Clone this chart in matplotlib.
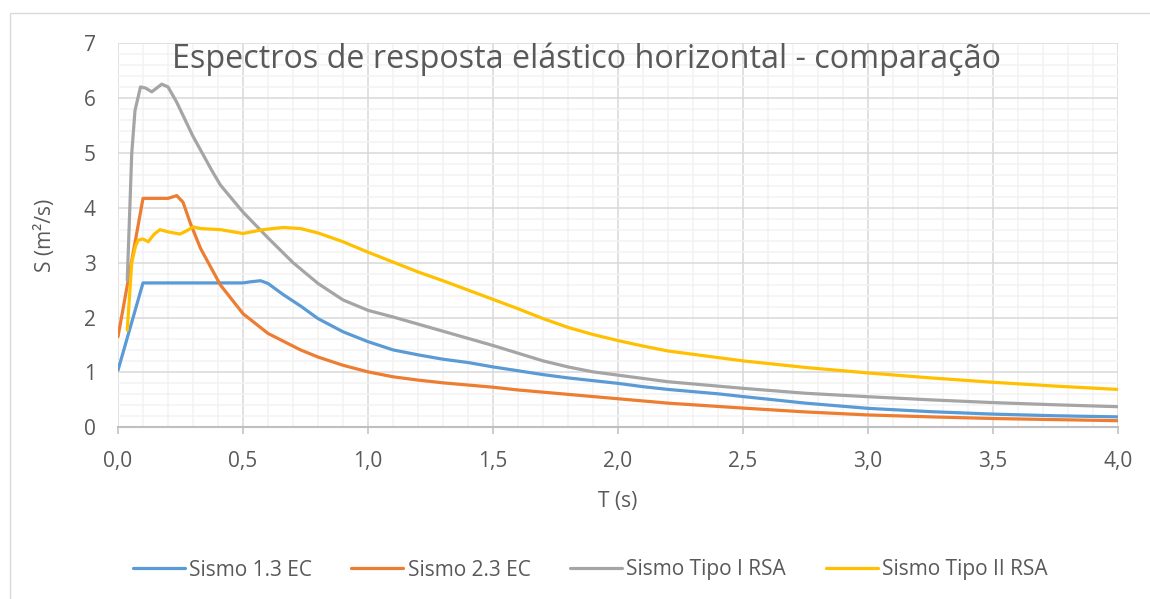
import matplotlib
matplotlib.use("Agg")
import matplotlib.pyplot as plt
from matplotlib import patches
import numpy as np

plt.rcParams['font.family'] = ['Open Sans', 'DejaVu Sans']

# Sismo 1.3 EC
t_ec1 = [0, 0.1, 0.5, 0.53, 0.57, 0.6, 0.66, 0.73, 0.8, 0.9, 1.0, 1.1, 1.2, 1.3, 1.4, 1.5, 1.6, 1.7, 1.8, 1.9,
         2.0, 2.1, 2.2, 2.3, 2.4, 2.5, 2.75, 3.0, 3.25, 3.5, 3.75, 4.0]
s_ec1 = [1.04, 2.63, 2.63, 2.65, 2.67, 2.62, 2.42, 2.21, 1.98, 1.74, 1.56, 1.41, 1.32, 1.24, 1.18, 1.10, 1.03, 0.96,
         0.90, 0.85, 0.80, 0.74, 0.69, 0.65, 0.61, 0.56, 0.44, 0.345, 0.285, 0.24, 0.21, 0.19]
# Sismo 2.3 EC
t_ec2 = [0, 0.1, 0.2, 0.235, 0.26, 0.29, 0.33, 0.41, 0.5, 0.6, 0.73, 0.8, 0.9, 1.0, 1.1, 1.2, 1.3, 1.4, 1.5, 1.6,
         1.7, 1.8, 1.9, 2.0, 2.1, 2.2, 2.3, 2.4, 2.5, 2.75, 3.0, 3.25, 3.5, 3.75, 4.0]
s_ec2 = [1.65, 4.17, 4.17, 4.22, 4.1, 3.71, 3.26, 2.59, 2.07, 1.71, 1.41, 1.28, 1.13, 1.01, 0.92, 0.86, 0.81, 0.77,
         0.73, 0.68, 0.64, 0.60, 0.56, 0.52, 0.48, 0.44, 0.41, 0.38, 0.35, 0.28, 0.225, 0.19, 0.16, 0.14, 0.12]
# Sismo Tipo I RSA
t_rsa1 = [0.037, 0.048, 0.055, 0.068, 0.09, 0.11, 0.135, 0.175, 0.2, 0.235, 0.3, 0.375, 0.41, 0.5, 0.6, 0.7,
          0.8, 0.9, 1.0, 1.1, 1.2, 1.3, 1.4, 1.5, 1.6, 1.7, 1.8, 1.9, 2.0, 2.1, 2.2, 2.3, 2.4, 2.5, 2.75, 3.0,
          3.25, 3.5, 3.75, 4.0]
s_rsa1 = [2.68, 4.08, 4.99, 5.77, 6.2, 6.18, 6.11, 6.25, 6.2, 5.92, 5.3, 4.68, 4.41, 3.92, 3.45, 3.0,
          2.62, 2.32, 2.13, 2.01, 1.88, 1.75, 1.62, 1.49, 1.35, 1.21, 1.10, 1.01, 0.95, 0.89, 0.83, 0.79, 0.75,
          0.71, 0.62, 0.557, 0.50, 0.45, 0.41, 0.375]
# Sismo Tipo II RSA
t_rsa2 = [0.037, 0.055, 0.07, 0.081, 0.1, 0.121, 0.145, 0.168, 0.2, 0.248, 0.275, 0.301, 0.33, 0.41, 0.5, 0.58,
          0.66, 0.73, 0.8, 0.9, 1.0, 1.1, 1.2, 1.3, 1.4, 1.5, 1.6, 1.7, 1.8, 1.9, 2.0, 2.1, 2.2, 2.3, 2.4, 2.5,
          2.75, 3.0, 3.25, 3.5, 3.75, 4.0]
s_rsa2 = [1.77, 3.0, 3.3, 3.41, 3.43, 3.38, 3.52, 3.60, 3.56, 3.52, 3.58, 3.65, 3.62, 3.6, 3.53, 3.6,
          3.64, 3.62, 3.54, 3.38, 3.19, 3.01, 2.83, 2.67, 2.50, 2.33, 2.16, 1.98, 1.82, 1.69, 1.58, 1.48, 1.39,
          1.33, 1.27, 1.21, 1.09, 0.99, 0.90, 0.82, 0.75, 0.69]

names = ['Sismo 1.3 EC', 'Sismo 2.3 EC', 'Sismo Tipo I RSA', 'Sismo Tipo II RSA']
colors = ['#5B9BD5', '#ED7D31', '#A5A5A5', '#FFC000']
xticks = [0, 0.5, 1.0, 1.5, 2.0, 2.5, 3.0, 3.5, 4.0]
xlabels = ['0,0', '0,5', '1,0', '1,5', '2,0', '2,5', '3,0', '3,5', '4,0']
yticks = [0, 1, 2, 3, 4, 5, 6, 7]

txt = '#595959'
W, H = 1150, 599
fig = plt.figure(figsize=(W / 100, H / 100), dpi=100)
# chart frame
fig.patches.append(patches.Rectangle((10 / W, -0.05), 1.1, 1 - 13 / H + 0.05, transform=fig.transFigure,
                                     fill=False, edgecolor='#D9D9D9', linewidth=1.0))
ax = fig.add_axes([118 / W, 1 - 427.3 / H, 1000 / W, (427.3 - 43) / H])

for t, s, n, c in zip([t_ec1, t_ec2, t_rsa1, t_rsa2], [s_ec1, s_ec2, s_rsa1, s_rsa2], names, colors):
    ax.plot(t, s, color=c, linewidth=2.3, label=n, solid_joinstyle='round', solid_capstyle='round', zorder=3)

ax.set_xlim(0, 4)
ax.set_ylim(0, 7)
ax.set_xticks(xticks)
ax.set_xticklabels(xlabels)
ax.set_yticks(yticks)
ax.set_xticks(np.arange(0, 4.01, 0.1), minor=True)
ax.set_yticks(np.arange(0, 7.01, 0.2), minor=True)
ax.grid(which='minor', color='#F2F2F2', linewidth=1.1, zorder=0)
ax.grid(which='major', color='#D9D9D9', linewidth=1.1, zorder=1)
ax.set_axisbelow(True)
for sp in ['top', 'right', 'left']:
    ax.spines[sp].set_visible(False)
ax.spines['bottom'].set_color('#BFBFBF')
ax.spines['bottom'].set_linewidth(1.5)
ax.tick_params(axis='x', which='major', length=5, width=1.1, color='#BFBFBF', pad=12, labelsize=15, labelcolor=txt)
ax.tick_params(axis='y', which='major', length=0, pad=16, labelsize=15, labelcolor=txt)
ax.tick_params(which='minor', length=0)

ax.set_xlabel('T (s)', fontsize=15, color=txt, labelpad=14)
ax.set_ylabel('S (m²/s)', fontsize=15, color=txt, labelpad=20)
ax.text(0.468, 0.935, 'Espectros de resposta elástico horizontal - comparação', transform=ax.transAxes,
        ha='center', va='baseline', fontsize=23.3, color=txt)

fig.legend(loc='center', bbox_to_anchor=(590 / W, 1 - 570 / H), ncol=4, frameon=False, fontsize=15,
           handlelength=2.5, handletextpad=0.2, columnspacing=1.9, labelcolor=txt)

fig.savefig('out.png', dpi=100)
